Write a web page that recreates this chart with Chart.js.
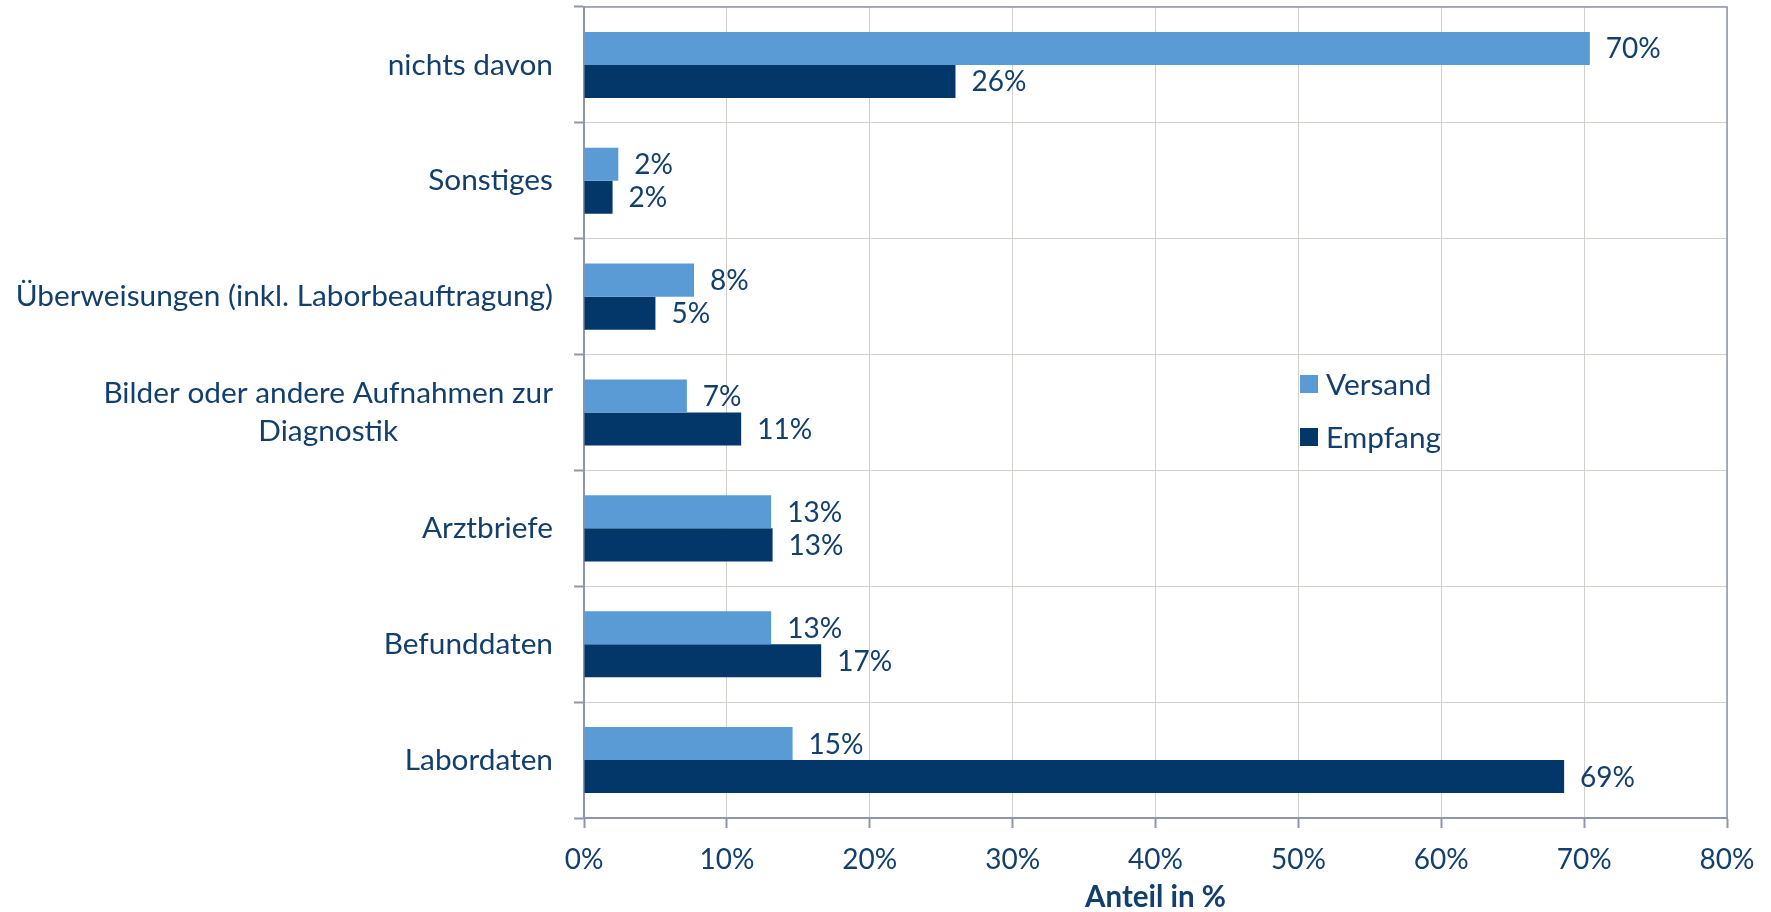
<!DOCTYPE html>
<html>
<head>
<meta charset="utf-8">
<script src="https://cdn.jsdelivr.net/npm/chart.js@4.4.0/dist/chart.umd.min.js"></script>
<style>
  html, body { margin: 0; padding: 0; background: #fff; }
  #wrap { width: 1771px; height: 912px; }
</style>
</head>
<body>
<div id="wrap"><canvas id="chart"></canvas></div>
<script>
// data
const categories = [
    "nichts davon",
    "Sonstiges",
    "Überweisungen (inkl. Laborbeauftragung)",
    ["Bilder oder andere Aufnahmen zur", "Diagnostik"],
    "Arztbriefe",
    "Befunddaten",
    "Labordaten"
];
const versand = [70.4, 2.4, 7.7, 7.2, 13.1, 13.1, 14.6];
const empfang = [26.0, 2.0, 5.0, 11.0, 13.2, 16.6, 68.6];
const xTickLabels = ["0%", "10%", "20%", "30%", "40%", "50%", "60%", "70%", "80%"];

const TEXT = "#123f6d";
const AXIS = "#8f96a8";
const GRID = "#d3cfcb";
const FONT = "Lato";
const FS = 28;      // numbers
const FS_TXT = 29.8; // words

// value labels next to bars
const valueLabels = {
    id: "valueLabels",
    afterDatasetsDraw(chart) {
        const ctx = chart.ctx;
        ctx.save();
        ctx.font = `${FS}px ${FONT}`;
        ctx.fillStyle = TEXT;
        ctx.textAlign = "left";
        ctx.textBaseline = "middle";
        chart.data.datasets.forEach((ds, i) => {
            chart.getDatasetMeta(i).data.forEach((bar, j) => {
                ctx.fillText(Math.round(ds.data[j]) + "%", bar.x + 16, bar.y + 1);
            });
        });
        ctx.restore();
    }
};

// category labels: right aligned block, lines centred inside it
const categoryLabels = {
    id: "categoryLabels",
    afterDraw(chart) {
        const ctx = chart.ctx;
        const y = chart.scales.y;
        const right = chart.chartArea.left - 31;
        ctx.save();
        ctx.font = `${FS_TXT}px ${FONT}`;
        ctx.fillStyle = TEXT;
        ctx.textAlign = "center";
        ctx.textBaseline = "middle";
        categories.forEach((c, i) => {
            const lines = Array.isArray(c) ? c : [c];
            const w = Math.max(...lines.map(l => ctx.measureText(l).width));
            const cy = y.getPixelForValue(i);
            const lh = 38;
            lines.forEach((l, k) => {
                ctx.fillText(l, right - w / 2, cy + (k - (lines.length - 1) / 2) * lh);
            });
        });
        ctx.restore();
    }
};

// frame round plot area + legend inside it
const frameAndLegend = {
    id: "frameAndLegend",
    afterDraw(chart) {
        const ctx = chart.ctx;
        const a = chart.chartArea;
        ctx.save();
        ctx.strokeStyle = AXIS;
        ctx.lineWidth = 1.5;
        ctx.beginPath();
        ctx.moveTo(a.left, a.top);
        ctx.lineTo(a.right, a.top);
        ctx.lineTo(a.right, a.bottom);
        ctx.stroke();

        ctx.font = `${FS_TXT}px ${FONT}`;
        ctx.textAlign = "left";
        ctx.textBaseline = "middle";
        chart.data.datasets.forEach((ds, i) => {
            const cy = 384 + i * 53;
            ctx.fillStyle = ds.backgroundColor;
            ctx.fillRect(1300, cy - 9, 18, 18);
            ctx.fillStyle = TEXT;
            ctx.fillText(ds.label, 1326, cy + 1);
        });
        ctx.restore();
    }
};

new Chart(document.getElementById("chart"), {
    type: "bar",
    data: {
        labels: categories,
        datasets: [
            { label: "Versand", data: versand, backgroundColor: "#5b9bd5" },
            { label: "Empfang", data: empfang, backgroundColor: "#03376a" }
        ]
    },
    options: {
        indexAxis: "y",
        responsive: true,
        maintainAspectRatio: false,
        animation: false,
        layout: { padding: { top: 7, right: 44, left: 0, bottom: 0 } },
        datasets: { bar: { categoryPercentage: 0.57, barPercentage: 1, borderWidth: 0 } },
        plugins: { legend: { display: false }, tooltip: { enabled: false } },
        scales: {
            x: {
                min: 0,
                max: 80,
                ticks: {
                    stepSize: 10,
                    color: TEXT,
                    font: { family: FONT, size: FS },
                    padding: 15,
                    callback: (v, i) => xTickLabels[i]
                },
                grid: {
                    color: GRID,
                    lineWidth: 1,
                    borderDash: [3, 2],
                    tickLength: 10,
                    tickColor: AXIS,
                    tickWidth: 2,
                    tickBorderDash: []
                },
                border: { color: AXIS, width: 2 },
                title: {
                    display: true,
                    text: "Anteil in %",
                    color: TEXT,
                    font: { family: FONT, size: 29.5, weight: "bold", lineHeight: 1 },
                    padding: { top: 0, bottom: 0 }
                },
                afterFit: s => { s.height = 94; }
            },
            y: {
                ticks: { display: false },
                grid: {
                    offset: true,
                    color: GRID,
                    lineWidth: 1,
                    borderDash: [3, 2],
                    tickLength: 10,
                    tickColor: AXIS,
                    tickWidth: 2,
                    tickBorderDash: []
                },
                border: { color: AXIS, width: 2 },
                afterFit: s => { s.width = 584; }
            }
        }
    },
    plugins: [valueLabels, categoryLabels, frameAndLegend]
});
</script>
</body>
</html>
